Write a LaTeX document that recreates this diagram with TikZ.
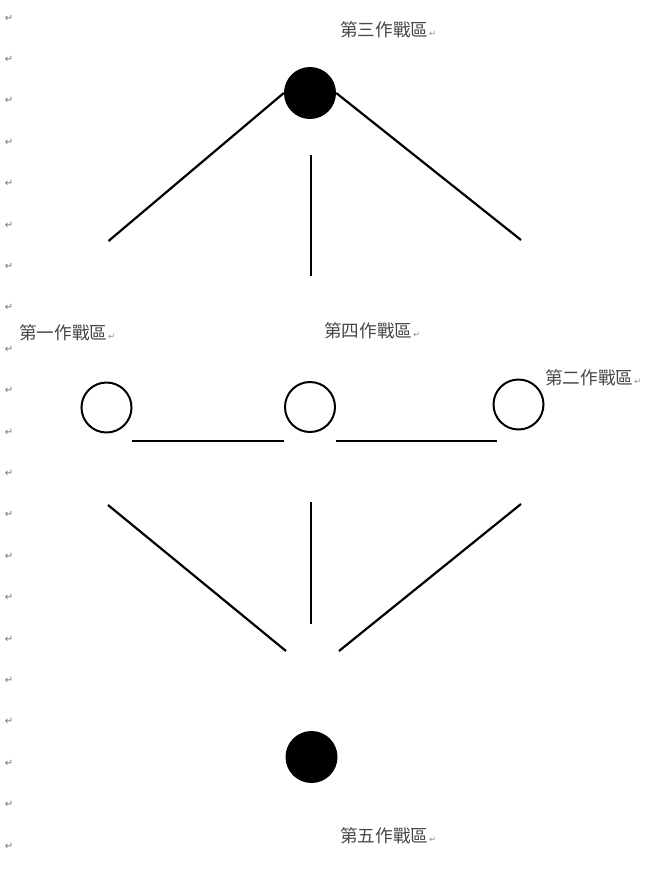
\documentclass[tikz,border=0pt]{standalone}
\usepackage{fontspec}
\newfontfamily\cjk{Noto Sans CJK TC}
\newfontfamily\markfont{DejaVu Sans}
\newcommand{\retmark}{{\markfont\fontsize{8.5}{8.5}\selectfont\color{black!45}\kern1pt↵}}
\tikzset{
    hub/.style={circle, fill=black, minimum size=52pt, inner sep=0pt},
    base/.style={circle, draw=black, line width=2pt, minimum size=50pt, inner sep=0pt},
    link/.style={line width=2.2pt},
    zonelabel/.style={anchor=west, inner sep=0pt, text=black!72, font=\cjk\fontsize{17.6}{20}\selectfont}
}
\begin{document}
\begin{tikzpicture}[x=1pt, y=-1pt]
        \useasboundingbox (0,0) rectangle (656,876);

        % Paragraph marks down the left margin
        \foreach \k in {0,...,20} {
            \node[inner sep=0pt, text=black!55, font=\markfont\fontsize{10}{10}\selectfont] (ret\k) at (9,18+41.4*\k) {↵};
        };

        % Draw the zones
        \node[hub] (zone3) at (310,93) {};
        \node[base] (zone1) at (106.5,407.5) {};
        \node[base] (zone4) at (310,407) {};
        \node[base] (zone2) at (518.5,404.5) {};
        \node[hub] (zone5) at (311.5,757) {};

        % Label the zones
        \foreach \name/\x/\y/\label in {lab3/340/29.5/第三作戰區, lab1/19/333/第一作戰區, lab4/324/331/第四作戰區, lab2/545/378/第二作戰區, lab5/340/836/第五作戰區} {
            \node[zonelabel] (\name) at (\x,\y) {\label\retmark};
        };

        % Free ends of the lines
        \coordinate (u1) at (108.5,241);
        \coordinate (u2) at (521,240);
        \coordinate (u3a) at (311,155);
        \coordinate (u3b) at (311,276);
        \coordinate (h1a) at (132,441);
        \coordinate (h1b) at (284,441);
        \coordinate (h2a) at (336,441);
        \coordinate (h2b) at (497,441);
        \coordinate (d1a) at (108,505);
        \coordinate (d1b) at (286,651);
        \coordinate (d2a) at (311,502);
        \coordinate (d2b) at (311,624);
        \coordinate (d3a) at (521,504);
        \coordinate (d3b) at (339,651);

        % Draw the lines
        \draw[link] (zone3.west) -- (u1);
        \draw[link] (zone3.east) -- (u2);
        \draw[link] (u3a) -- (u3b);
        \draw[link] (h1a) -- (h1b);
        \draw[link] (h2a) -- (h2b);
        \draw[link] (d1a) -- (d1b);
        \draw[link] (d2a) -- (d2b);
        \draw[link] (d3a) -- (d3b);
    \end{tikzpicture}
\end{document}
